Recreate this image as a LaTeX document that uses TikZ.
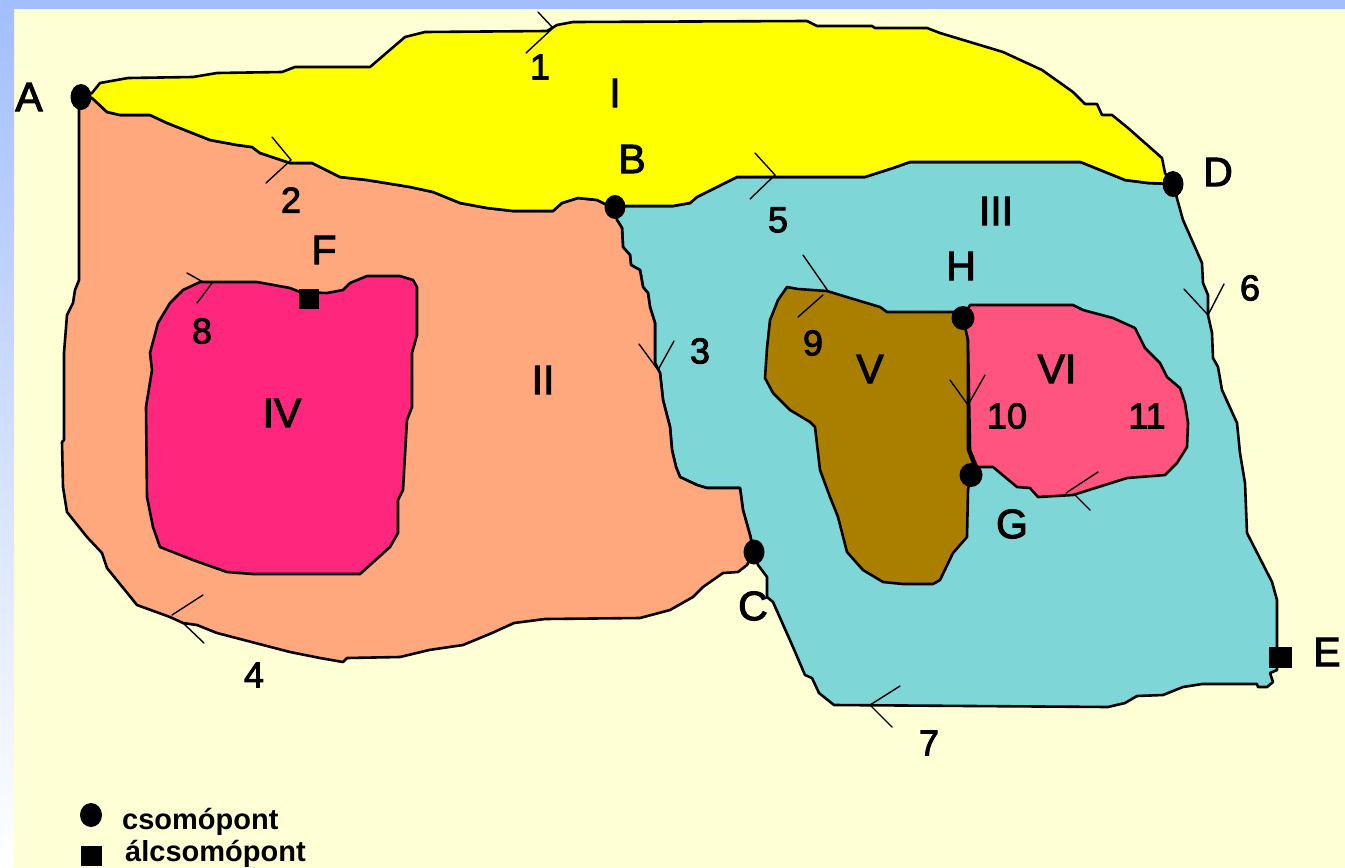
\documentclass[tikz,border=0pt]{standalone}
\usepackage{fontspec}
\setmainfont{Liberation Sans}
\newfontfamily\labfont[FakeBold=2.6]{Liberation Sans}
\usetikzlibrary{shapes.geometric}
\definecolor{cream}{RGB}{255,255,213}
\definecolor{bluebar}{RGB}{162,190,255}
\definecolor{regI}{RGB}{255,255,0}
\definecolor{regII}{RGB}{255,168,125}
\definecolor{regIII}{RGB}{127,214,214}
\definecolor{regIV}{RGB}{255,38,125}
\definecolor{regV}{RGB}{170,127,0}
\definecolor{regVI}{RGB}{255,84,128}
\tikzset{
  region/.style={draw=black,line width=2.6pt,line join=round},
  tick/.style={draw=black,line width=1.4pt,line cap=round},
  nodedot/.style={ellipse,fill=black,inner sep=0pt,minimum width=21pt,minimum height=25pt},
  pseudodot/.style={rectangle,fill=black,inner sep=0pt,minimum width=21pt,minimum height=21pt},
  bigl/.style={inner sep=0pt,font=\fontsize{41}{41}\labfont},
  numl/.style={inner sep=0pt,font=\fontsize{36}{36}\labfont},
  legl/.style={inner sep=0pt,anchor=base west,font=\fontsize{29}{29}\selectfont\bfseries}
}
\begin{document}
\begin{tikzpicture}[x=1pt,y=-1pt]
\useasboundingbox (0,0) rectangle (1345,868);
\clip (0,0) rectangle (1345,868);
\fill[cream] (0,0) rectangle (1345,868);
\shade[top color=bluebar,bottom color=white] (0,0) rectangle (14,868);
\fill[bluebar] (0,0) rectangle (1345,9);
% III
\path[region,fill=regIII] (615,207)--(627,206)--(673,206)--(690,203)--(697,197)--(737,177)--(865,177)--(893,168)--(910,162)--(1080,162)--(1083,163)--(1125,180)--(1148,183)--(1173,184)--(1183,220)--(1202,263)--(1203,283)--(1208,295)--(1208,315)--(1212,333)--(1213,358)--(1218,367)--(1222,390)--(1237,423)--(1240,453)--(1245,483)--(1247,533)--(1272,582)--(1277,600)--(1277,647)--(1277,670)--(1270,673)--(1273,682)--(1267,687)--(1258,687)--(1257,684)--(1202,684)--(1183,687)--(1163,695)--(1137,696)--(1125,703)--(1108,707)--(834,705)--(819,693)--(812,678)--(805,675)--(793,647)--(773,602)--(767,597)--(767,577)--(758,565)--(754,552)--(750,535)--(743,510)--(740,488)--(707,488)--(697,485)--(680,477)--(676,467)--(672,450)--(670,427)--(663,400)--(660,373)--(655,363)--(655,323)--(650,307)--(648,293)--(643,287)--(640,270)--(631,265)--(630,255)--(623,247)--(622,228)--(617,220)--cycle;
% II
\path[region,fill=regII] (79,100)--(79,280)--(75,290)--(73,303)--(67,315)--(64,353)--(64,440)--(62,442)--(63,487)--(67,512)--(87,537)--(102,553)--(107,568)--(137,605)--(170,617)--(183,623)--(197,625)--(217,633)--(290,652)--(320,658)--(343,662)--(347,658)--(400,657)--(429,650)--(463,645)--(492,633)--(514,623)--(545,619)--(640,618)--(670,610)--(693,597)--(703,587)--(723,573)--(738,572)--(747,565)--(754,552)--(750,535)--(743,510)--(740,488)--(707,488)--(697,485)--(680,477)--(676,467)--(672,450)--(670,427)--(663,400)--(660,373)--(655,363)--(655,323)--(650,307)--(648,293)--(643,287)--(640,270)--(631,265)--(630,255)--(623,247)--(622,228)--(617,220)--(615,207)--(607,205)--(597,200)--(578,198)--(562,203)--(553,211)--(513,211)--(487,208)--(460,203)--(433,192)--(410,187)--(367,180)--(340,177)--(312,163)--(290,163)--(260,153)--(252,147)--(237,145)--(210,140)--(167,123)--(150,115)--(120,115)--(107,112)--(92,98)--cycle;
% I
\path[region,fill=regI] (81,97)--(92,93)--(100,83)--(128,78)--(193,77)--(217,73)--(282,72)--(295,67)--(370,67)--(405,37)--(425,32)--(547,31)--(557,25)--(573,22)--(807,21)--(817,26)--(872,26)--(875,28)--(927,28)--(940,33)--(1003,52)--(1042,70)--(1073,92)--(1085,104)--(1097,104)--(1102,115)--(1112,115)--(1128,128)--(1162,158)--(1165,173)--(1173,184)--(1148,183)--(1125,180)--(1083,163)--(1080,162)--(910,162)--(893,168)--(865,177)--(737,177)--(697,197)--(690,203)--(673,206)--(627,206)--(615,207)--(607,205)--(597,200)--(578,198)--(562,203)--(553,211)--(513,211)--(487,208)--(460,203)--(433,192)--(410,187)--(367,180)--(340,177)--(312,163)--(290,163)--(260,153)--(252,147)--(237,145)--(210,140)--(167,123)--(150,115)--(120,115)--(107,112)--(92,98)--cycle;
% IV
\path[region,fill=regIV] (200,282)--(257,282)--(290,288)--(300,292)--(327,293)--(343,290)--(350,283)--(367,276)--(400,276)--(413,280)--(417,287)--(417,335)--(412,353)--(412,407)--(407,420)--(403,490)--(398,500)--(398,533)--(390,547)--(360,574)--(253,574)--(227,572)--(193,560)--(160,547)--(153,527)--(147,497)--(146,407)--(152,370)--(150,353)--(158,323)--(170,303)--(183,290)--cycle;
% V
\path[region,fill=regV] (787,287)--(798,289)--(827,291)--(850,298)--(880,307)--(887,312)--(963,312)--(968,340)--(968,450)--(973,463)--(968,490)--(967,537)--(953,553)--(940,580)--(933,584)--(903,584)--(883,582)--(863,570)--(847,552)--(838,517)--(830,497)--(820,470)--(815,427)--(810,422)--(790,410)--(773,393)--(765,378)--(767,348)--(770,320)--(778,300)--cycle;
% VI
\path[region,fill=regVI] (970,305)--(1073,305)--(1083,310)--(1113,318)--(1135,328)--(1145,348)--(1160,363)--(1167,377)--(1180,388)--(1185,403)--(1188,423)--(1187,447)--(1177,463)--(1165,475)--(1127,478)--(1073,495)--(1038,497)--(1030,488)--(1017,487)--(993,467)--(977,467)--(970,450)--(968,340)--(963,318)--cycle;
% arrow ticks
\draw[tick] (538,12)--(553,28)--(526,53);
\draw[tick] (272,137)--(291,160)--(266,183);
\draw[tick] (639,344)--(658,370)--(674,341);
\draw[tick] (203,595)--(172,615);
\draw[tick] (183,623)--(204,643);
\draw[tick] (755,153)--(775,175)--(750,199);
\draw[tick] (1184,289)--(1208,315)--(1224,284);
\draw[tick] (900,686)--(870,705)--(892,727);
\draw[tick] (187,273)--(203,282);
\draw[tick] (212,283)--(197,303);
\draw[tick] (803,255)--(828,291);
\draw[tick] (823,295)--(798,317);
\draw[tick] (950,380)--(968,405)--(985,375);
\draw[tick] (1098,472)--(1066,493);
\draw[tick] (1075,495)--(1090,510);
% points
\node[nodedot,minimum height=26pt] (A) at (81,97) {};
\node[nodedot,minimum height=24pt] (B) at (615,207) {};
\node[nodedot] (C) at (754,552) {};
\node[nodedot,minimum height=26pt] (D) at (1173,184) {};
\node[pseudodot,minimum width=23pt] (E) at (1280,657) {};
\node[pseudodot,minimum width=20pt,minimum height=20pt] (F) at (309,299) {};
\node[nodedot,minimum width=23pt,minimum height=24pt] (G) at (971,475) {};
\node[nodedot,minimum width=23pt,minimum height=24pt] (H) at (963,318) {};
% point labels
\node[bigl] (lA) at (29,97) {A};
\node[bigl] (lB) at (632,159) {B};
\node[bigl] (lC) at (753,606) {C};
\node[bigl] (lD) at (1218,172) {D};
\node[bigl] (lE) at (1327,652) {E};
\node[bigl] (lF) at (324,250) {F};
\node[bigl] (lG) at (1012,524) {G};
\node[bigl] (lH) at (961,266) {H};
% region labels
\node[bigl] (rI) at (615,93) {I};
\node[bigl] (rII) at (543,380) {II};
\node[bigl] (rIII) at (996,211) {III};
\node[bigl] (rIV) at (282,413) {IV};
\node[bigl] (rV) at (870,369) {V};
\node[bigl] (rVI) at (1057,369) {VI};
% edge labels
\node[numl] (n1) at (540,67) {1};
\node[numl] (n2) at (291,200) {2};
\node[numl] (n3) at (700,351) {3};
\node[numl] (n4) at (254,675) {4};
\node[numl] (n5) at (778,220) {5};
\node[numl] (n6) at (1250,288) {6};
\node[numl] (n7) at (929,743) {7};
\node[numl] (n8) at (202,331) {8};
\node[numl] (n9) at (813,343) {9};
\node[numl] (n10) at (1007,416) {10};
\node[numl] (n11) at (1147,416) {11};
% legend
\node[nodedot,minimum width=22pt,minimum height=24pt] (legdot) at (91,815) {};
\node[pseudodot,minimum height=20pt] (legsq) at (91,856) {};
\node[legl] (legt1) at (122,829) {csomópont};
\node[legl] (legt2) at (125,861.5) {álcsomópont};
\end{tikzpicture}
\end{document}
